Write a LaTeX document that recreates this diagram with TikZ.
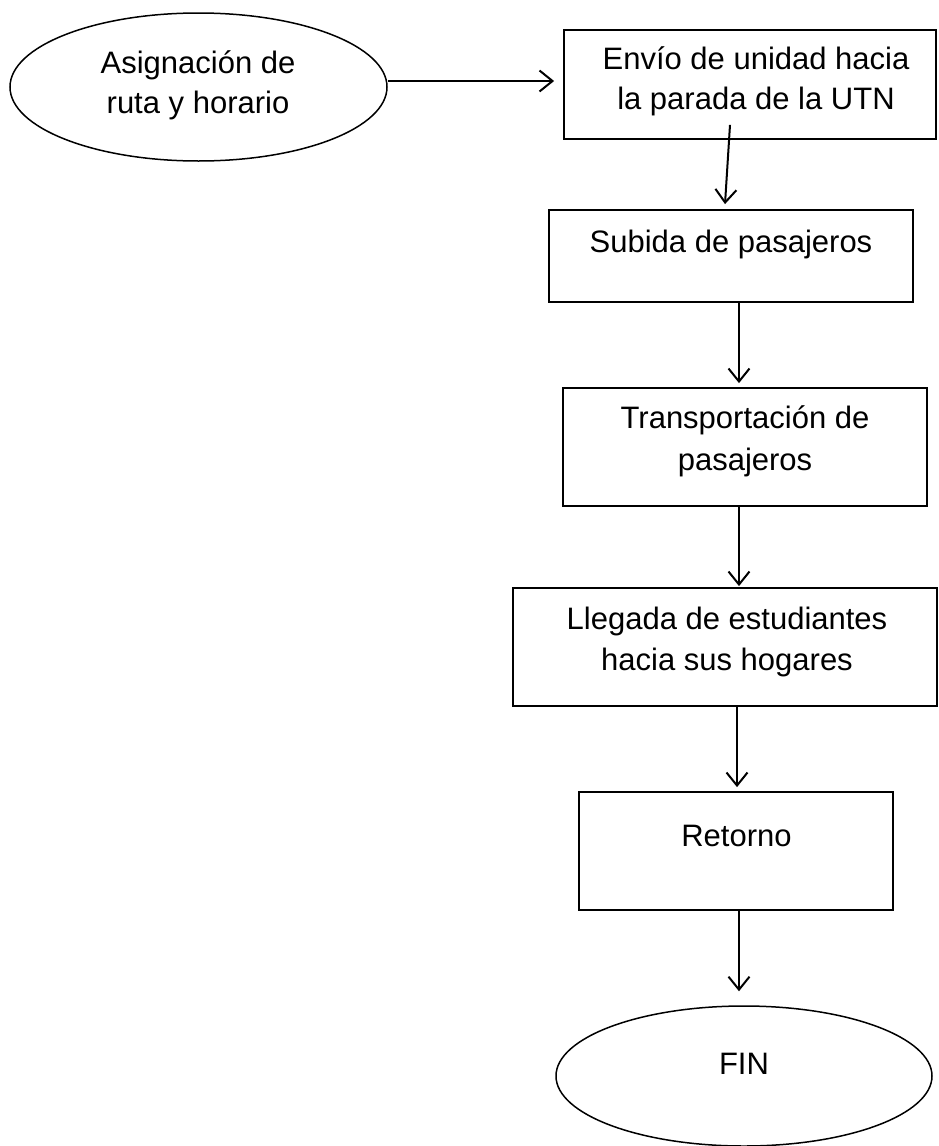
\documentclass[tikz,border=0pt]{standalone}
\usepackage{fontspec}
\setmainfont{Liberation Sans}
\usetikzlibrary{arrows.meta,shapes.geometric}
\begin{document}
\begin{tikzpicture}[x=1pt,y=-1pt,
  box/.style={draw, line width=1.8pt, inner sep=0pt},
  oval/.style={draw, ellipse, line width=1.5pt, inner sep=0pt},
  lbl/.style={anchor=base, inner sep=0pt, font=\fontsize{31}{40}\selectfont},
  arr/.style={line width=2pt, -{Straight Barb[length=13pt,width=21pt,line width=2pt]}}]
\useasboundingbox (0,0) rectangle (939,1146);
% shapes
\node[oval, minimum width=377pt, minimum height=148pt] (e1) at (198.5,87) {};
\node[box, minimum width=372pt, minimum height=109pt] (b1) at (750,84.5) {};
\node[box, minimum width=364pt, minimum height=92pt] (b2) at (731,256) {};
\node[box, minimum width=364pt, minimum height=118pt] (b3) at (745,447) {};
\node[box, minimum width=424pt, minimum height=118pt] (b4) at (725,647) {};
\node[box, minimum width=314pt, minimum height=118pt] (b5) at (736,851) {};
\node[oval, minimum width=376pt, minimum height=140pt] (e2) at (744,1076) {};
% texts
\node[lbl] (t1a) at (198,73) {Asignación de};
\node[lbl] (t1b) at (198,113) {ruta y horario};
\node[lbl] (t2a) at (756,69) {Envío de unidad hacia};
\node[lbl] (t2b) at (756,109) {la parada de la UTN};
\node[lbl] (t3) at (731,252) {Subida de pasajeros};
\node[lbl] (t4a) at (745,428) {Transportación de};
\node[lbl] (t4b) at (745,470) {pasajeros};
\node[lbl] (t5a) at (727,629) {Llegada de estudiantes};
\node[lbl] (t5b) at (727,670) {hacia sus hogares};
\node[lbl] (t6) at (736.5,846) {Retorno};
\node[lbl] (t7) at (744,1074) {FIN};
% connectors
\draw[arr] ([yshift=6pt]e1.east) -- ([xshift=-9pt,yshift=3.5pt]b1.west);
\draw[arr] ([xshift=-20pt,yshift=15pt]b1.south) -- ([xshift=-6pt,yshift=5pt]b2.north);
\draw[arr] ([xshift=8pt]b2.south) -- ([xshift=-6pt,yshift=4pt]b3.north);
\draw[arr] ([xshift=-6pt]b3.south) -- ([xshift=14pt,yshift=1pt]b4.north);
\draw[arr] ([xshift=12pt]b4.south) -- ([xshift=1pt,yshift=4pt]b5.north);
\draw[arr] ([xshift=3pt]b5.south) -- ([xshift=-5pt,yshift=14pt]e2.north);
\end{tikzpicture}
\end{document}
